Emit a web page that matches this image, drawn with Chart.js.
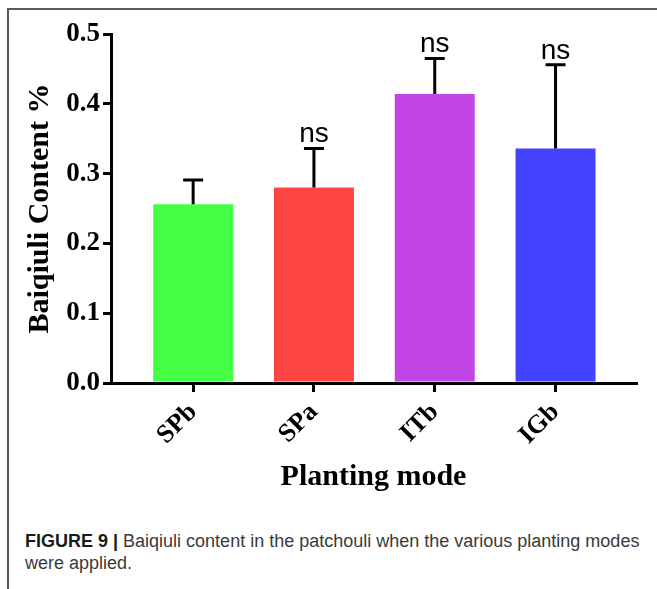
<!DOCTYPE html>
<html>
<head>
<meta charset="utf-8">
<script src="https://cdn.jsdelivr.net/npm/chart.js@4.4.1/dist/chart.umd.min.js"></script>
<style>
  html, body { margin: 0; padding: 0; background: #fff; }
  body { width: 657px; height: 589px; position: relative; overflow: hidden; }
  #frame {
    position: absolute; left: 7px; top: 8px; right: 0; bottom: 0;
    border-top: 2px solid #5a5a5a; border-left: 2px solid #5a5a5a;
  }
  #chart { position: absolute; left: 0; top: 0; }
  #caption {
    position: absolute; left: 25px; top: 530px; width: 632px;
    font-family: "Liberation Sans", Arial, sans-serif;
    font-size: 18px; line-height: 22px; color: #3a3a3a;
  }
  #caption b { color: #1a1a1a; }
</style>
</head>
<body>
<div id="frame"></div>
<canvas id="chart" width="657" height="510"></canvas>
<div id="caption"><b>FIGURE 9 |</b> Baiqiuli content in the patchouli when the various planting modes<br>were applied.</div>
<script>
// данные
const CATEGORIES = ['SPb', 'SPa', 'ITb', 'IGb'];
const MEANS = [0.256, 0.280, 0.414, 0.336];
const SD = [0.035, 0.056, 0.051, 0.120];
const SIGNIF = ['', 'ns', 'ns', 'ns'];
const BAR_COLORS = ['#44ff44', '#ff4444', '#c244e6', '#4242ff'];

const serifBold = size => ({ family: '"Liberation Serif", "Times New Roman", serif', weight: 'bold', size });

// планки погрешностей (только вверх) и подписи "ns"
const errorBars = {
    id: 'errorBars',
    afterDatasetsDraw(chart) {
        const { ctx, scales: { x, y } } = chart;
        ctx.save();
        ctx.strokeStyle = '#000';
        ctx.fillStyle = '#000';
        ctx.lineWidth = 3;
        MEANS.forEach((m, i) => {
            const px = x.getPixelForValue(i);
            const top = y.getPixelForValue(m + SD[i]);
            const base = y.getPixelForValue(m);
            ctx.beginPath();
            ctx.moveTo(px, base);
            ctx.lineTo(px, top);
            ctx.moveTo(px - 10, top);
            ctx.lineTo(px + 10, top);
            ctx.stroke();
            if (SIGNIF[i]) {
                ctx.font = '28px "Liberation Sans", Arial, sans-serif';
                ctx.textAlign = 'center';
                ctx.textBaseline = 'alphabetic';
                ctx.fillText(SIGNIF[i], px, top - 6);
            }
        });
        ctx.restore();
    },
};

new Chart(document.getElementById('chart'), {
    type: 'bar',
    data: {
        datasets: [{
            data: MEANS.map((v, i) => ({ x: i, y: v })),
            backgroundColor: BAR_COLORS,
            borderWidth: 0,
            categoryPercentage: 1,
            barPercentage: 0.662,
        }],
    },
    options: {
        responsive: false,
        animation: false,
        devicePixelRatio: 1,
        layout: { padding: { top: 34, right: 21, bottom: 15, left: 0 } },
        plugins: { legend: { display: false }, tooltip: { enabled: false } },
        scales: {
            x: {
                type: 'linear',
                min: -0.68,
                max: 3.666,
                offset: false,
                grid: { drawOnChartArea: false, drawTicks: true, tickLength: 9, lineWidth: 3, color: '#000', offset: false },
                border: { display: true, color: '#000', width: 3 },
                afterBuildTicks: scale => { scale.ticks = CATEGORIES.map((c, i) => ({ value: i })); },
                afterFit: scale => { scale.height = 112; },
                ticks: {
                    color: '#000',
                    font: serifBold(26),
                    minRotation: 45,
                    maxRotation: 45,
                    padding: 5,
                    callback: v => CATEGORIES[v],
                },
                title: { display: true, text: 'Planting mode', color: '#000', font: serifBold(30), padding: 0 },
            },
            y: {
                min: 0,
                max: 0.5,
                grid: { drawOnChartArea: false, drawTicks: true, tickLength: 8, lineWidth: 3, color: '#000' },
                border: { display: true, color: '#000', width: 3 },
                afterFit: scale => { scale.width = 111; },
                ticks: {
                    stepSize: 0.1,
                    color: '#000',
                    font: serifBold(27),
                    padding: 3,
                    callback: v => v.toFixed(1),
                },
                title: { display: true, text: 'Baiqiuli Content %', color: '#000', font: serifBold(30), padding: { top: 22, bottom: 0 } },
            },
        },
    },
    plugins: [errorBars],
});
</script>
</body>
</html>
